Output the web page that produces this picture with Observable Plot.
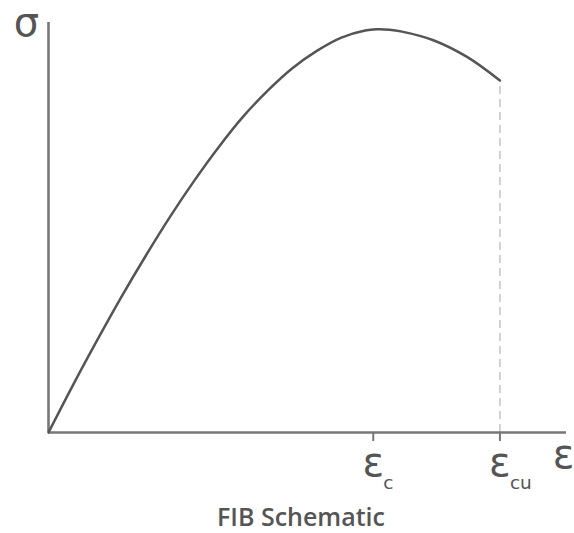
<!DOCTYPE html>
<html>
<head>
<meta charset="utf-8">
<script src="https://cdn.jsdelivr.net/npm/d3@7"></script>
<script src="https://cdn.jsdelivr.net/npm/@observablehq/plot@0.6"></script>
<style>
  html, body { margin: 0; padding: 0; background: #fff; }
  #chart svg { display: block; }
  #caption {
    width: 574px; box-sizing: border-box; padding-left: 28px; padding-top: 4px;
    text-align: center; font-family: "Open Sans", sans-serif; font-weight: 600;
    font-size: 25px; line-height: 24px; color: #555;
  }
</style>
</head>
<body>
<div id="chart"></div>
<div id="caption">FIB Schematic</div>
<script>
// Schematic stress–strain curve (normalized units)
const strain = [0, 0.15, 0.30, 0.45, 0.60, 0.75, 0.90, 1.05, 1.20, 1.35, 1.50, 1.65, 1.80, 1.95, 2.02, 2.10, 2.17, 2.37, 2.58, 2.78];
const stress = [0, 0.117, 0.229, 0.337, 0.439, 0.536, 0.626, 0.709, 0.784, 0.848, 0.903, 0.946, 0.979, 0.997, 1.0, 0.999, 0.995, 0.973, 0.931, 0.873];
const tickValues = [2.0, 2.78];
const tickMain = ["ε", "ε"];
const tickSub = ["c", "cu"];
const xMax = 3.19;
const yMax = 1.017;
const xLabel = "ε";
const yLabel = "σ";

const curve = strain.map((e, i) => ({e, s: stress[i]}));
const ticks = tickValues.map((v, i) => ({v, main: tickMain[i], sub: tickSub[i]}));
const endStress = stress[stress.length - 1];
const greek = "'DejaVu Sans', sans-serif";

const chart = Plot.plot({
  width: 574,
  height: 500,
  marginLeft: 48,
  marginRight: 8,
  marginTop: 22,
  marginBottom: 68,
  x: {domain: [0, xMax]},
  y: {domain: [0, yMax], axis: null},
  marks: [
    Plot.ruleX([tickValues[1]], {y1: 0, y2: endStress, stroke: "#c8c8c8", strokeWidth: 1.6, strokeDasharray: "8,5"}),
    Plot.ruleY([0], {x1: 0, x2: xMax, stroke: "#777", strokeWidth: 2.6}),
    Plot.ruleX([0], {y1: 0, y2: yMax, stroke: "#777", strokeWidth: 2.6}),
    Plot.axisX({ticks: tickValues, tickSize: 9, tickFormat: () => "", stroke: "#777", strokeWidth: 2, label: null}),
    Plot.line(curve, {x: "e", y: "s", curve: "catmull-rom", stroke: "#555", strokeWidth: 2.5}),
    Plot.text(ticks, {x: "v", y: () => 0, text: "main", fontSize: 40, fontFamily: greek, fill: "#555", lineAnchor: "bottom", dy: 43}),
    Plot.text(ticks, {x: "v", y: () => 0, text: "sub", fontSize: 18.5, fontFamily: greek, fill: "#555", textAnchor: "start", lineAnchor: "bottom", dx: 10, dy: 56}),
    Plot.text([xLabel], {x: () => xMax, y: () => 0, text: d => d, fontSize: 40, fontFamily: greek, fill: "#555", lineAnchor: "bottom", dx: -3, dy: 35}),
    Plot.text([yLabel], {x: () => 0, y: () => yMax, text: d => d, fontSize: 40, fontFamily: greek, fill: "#555", lineAnchor: "bottom", dx: -22, dy: 13})
  ]
});
document.getElementById("chart").appendChild(chart);
</script>
</body>
</html>
